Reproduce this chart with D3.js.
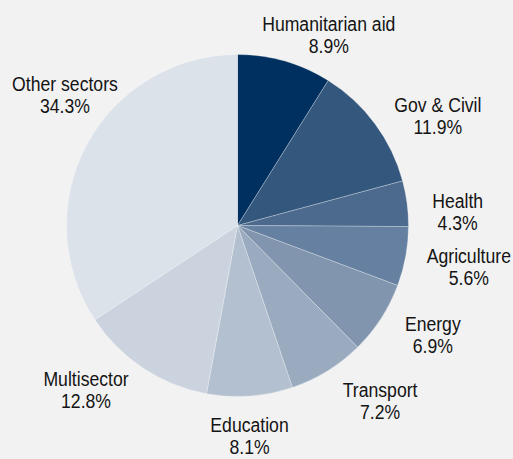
<!DOCTYPE html>
<html>
<head>
<meta charset="utf-8">
<script src="https://cdn.jsdelivr.net/npm/d3@7"></script>
<style>
  html, body { margin: 0; padding: 0; background: #f2f2f2; }
  svg { display: block; }
  text { font-family: "Liberation Sans", Arial, sans-serif; font-size: 21px; fill: #141414; }
</style>
</head>
<body>
<svg id="chart" width="513" height="459"></svg>
<script>
// ---- data ----
const categories = ["Humanitarian aid", "Gov & Civil", "Health", "Agriculture", "Energy", "Transport", "Education", "Multisector", "Other sectors"];
const values = [8.9, 11.9, 4.3, 5.6, 6.9, 7.2, 8.1, 12.8, 34.3];
const valueLabels = ["8.9%", "11.9%", "4.3%", "5.6%", "6.9%", "7.2%", "8.1%", "12.8%", "34.3%"];

// ---- styling / layout (kept apart from data) ----
const sliceColors = ["#00305f", "#34587d", "#4b6a8e", "#6580a0", "#8195ae", "#9aabc0", "#b3c0cf", "#cbd3de", "#dbe2ea"];
// small per-label nudges from the outer label arc
const labelNudge = [[30, 19], [22, 19], [0, 11], [13, -3], [9, -15], [26, -17], [-4, -15], [-29, -25], [23, -29]];

const W = 513, H = 459;
const cx = 237.5, cy = 225.5, radius = 171, labelRadius = 222, lineGap = 22;
const condense = 0.84; // horizontal squeeze to mimic a condensed face

const svg = d3.select("#chart");
const g = svg.append("g").attr("transform", `translate(${cx},${cy})`);

const data = categories.map((c, i) => ({ category: c, value: values[i], label: valueLabels[i], idx: i }));

const pie = d3.pie().sort(null).value(d => d.value).startAngle(0).endAngle(2 * Math.PI);
const arcs = pie(data);

const arc = d3.arc().innerRadius(0).outerRadius(radius);
const labelArc = d3.arc().innerRadius(labelRadius).outerRadius(labelRadius);

g.selectAll("path.slice")
  .data(arcs)
  .join("path")
  .attr("class", "slice")
  .attr("d", arc)
  .attr("fill", d => sliceColors[d.data.idx])
  .attr("stroke", "#ffffff")
  .attr("stroke-opacity", 0.45)
  .attr("stroke-width", 0.6);

const labels = g.selectAll("text.lbl")
  .data(arcs)
  .join("text")
  .attr("class", "lbl")
  .attr("text-anchor", "middle")
  .attr("transform", d => {
    const [x, y] = labelArc.centroid(d);
    const n = labelNudge[d.data.idx];
    return `translate(${x + n[0]},${y + n[1]}) scale(${condense},1)`;
  });

labels.append("tspan").attr("x", 0).attr("y", 0).text(d => d.data.category);
labels.append("tspan").attr("x", 0).attr("y", lineGap).text(d => d.data.label);
</script>
</body>
</html>
